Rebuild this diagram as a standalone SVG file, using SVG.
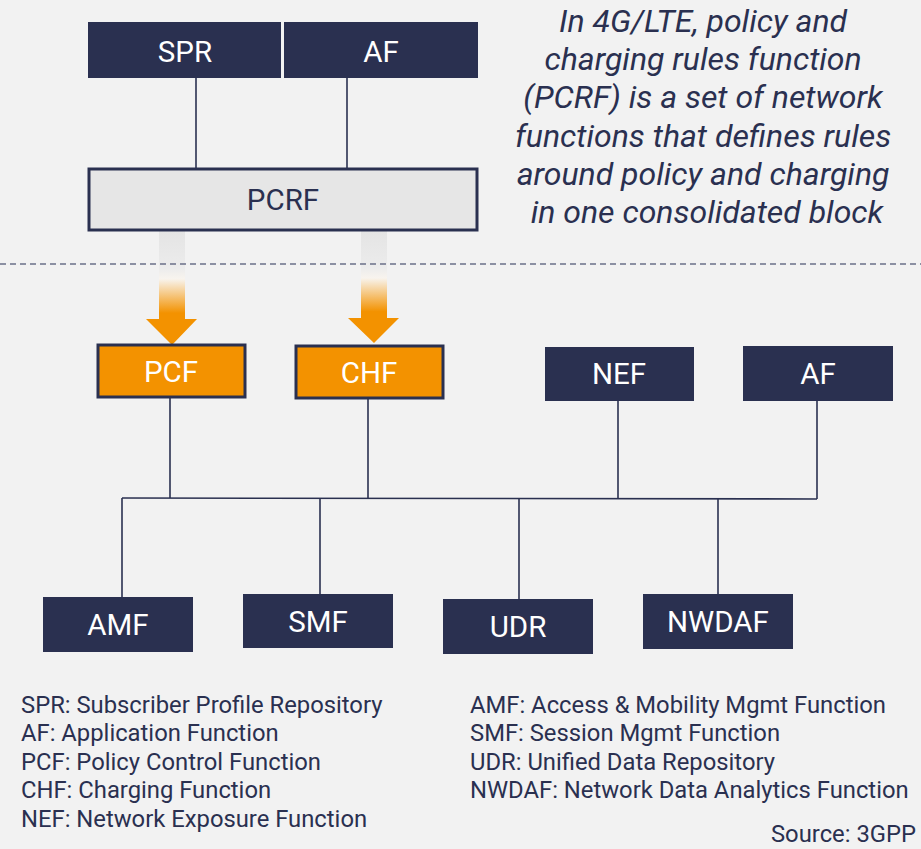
<svg xmlns="http://www.w3.org/2000/svg" width="921" height="849" viewBox="0 0 921 849">
  <defs>
    <linearGradient id="flow" x1="0" y1="0" x2="0" y2="1">
      <stop offset="0" stop-color="#E4E4E4"/>
      <stop offset="0.33" stop-color="#ECECEC"/>
      <stop offset="0.42" stop-color="#F8F4EE"/>
      <stop offset="0.72" stop-color="#F39200"/>
      <stop offset="1" stop-color="#F39200"/>
    </linearGradient>
  </defs>
  <style>
    .bg { fill: #F2F2F2; }
    .dark rect { fill: #2A3050; }
    .hot rect { fill: #F39200; stroke: #2A3050; stroke-width: 3; }
    .legacy rect { fill: #E6E6E6; stroke: #2A3050; stroke-width: 3; }
    .label { font-family: Roboto, "Liberation Sans", sans-serif; font-size: 29.5px; text-anchor: middle; fill: #FFFFFF; }
    .legacy .label { fill: #2A3050; }
    .wire { stroke: #2A3050; stroke-width: 1.6; fill: none; }
    .note { font-family: Roboto, "Liberation Sans", sans-serif; font-style: italic; font-size: 32px; fill: #2A3050; text-anchor: middle; }
    .legend { font-family: Roboto, "Liberation Sans", sans-serif; font-size: 23.8px; fill: #2A3050; }
  </style>

  <rect class="bg" x="0" y="0" width="921" height="849"/>

  <!-- connectors -->
  <g id="connectors">
    <line class="wire" x1="196" y1="78" x2="196" y2="168"/>
    <line class="wire" x1="347" y1="78" x2="347" y2="168"/>
    <line class="wire" x1="170" y1="397" x2="170" y2="498"/>
    <line class="wire" x1="368" y1="398" x2="368" y2="498"/>
    <line class="wire" x1="618" y1="401" x2="618" y2="498"/>
    <line class="wire" x1="817" y1="401" x2="817" y2="499"/>
    <line class="wire" x1="122" y1="498" x2="817" y2="499"/>
    <line class="wire" x1="122" y1="498" x2="122" y2="597"/>
    <line class="wire" x1="320" y1="498" x2="320" y2="594"/>
    <line class="wire" x1="519" y1="499" x2="519" y2="599"/>
    <line class="wire" x1="718" y1="499" x2="718" y2="594"/>
    <!-- migration arrows from PCRF down to PCF and CHF -->
    <path d="M159 231 H185 V319 H197 L172 345 L146 319 H159 Z" fill="url(#flow)"/>
    <path d="M361 231 H387 V318 H399 L374 343 L348 318 H361 Z" fill="url(#flow)"/>
    <!-- 4G / 5G divider -->
    <line x1="0" y1="264" x2="921" y2="264" stroke="#6B7089" stroke-width="1.6" stroke-dasharray="6 4"/>
  </g>

  <!-- 4G nodes -->
  <g id="spr" class="dark">
    <rect x="88" y="22" width="193" height="56"/>
    <text class="label" x="185" y="62">SPR</text>
  </g>
  <g id="af-4g" class="dark">
    <rect x="284" y="22" width="194" height="56"/>
    <text class="label" x="381" y="62">AF</text>
  </g>
  <g id="pcrf" class="legacy">
    <rect x="89" y="169" width="388" height="61"/>
    <text class="label" x="283" y="210">PCRF</text>
  </g>

  <!-- 5G nodes -->
  <g id="pcf" class="hot">
    <rect x="98" y="345" width="147" height="52"/>
    <text class="label" x="171" y="382">PCF</text>
  </g>
  <g id="chf" class="hot">
    <rect x="296" y="346" width="147" height="52"/>
    <text class="label" x="369" y="383">CHF</text>
  </g>
  <g id="nef" class="dark">
    <rect x="545" y="347" width="149" height="54"/>
    <text class="label" x="619" y="384">NEF</text>
  </g>
  <g id="af-5g" class="dark">
    <rect x="743" y="346" width="150" height="55"/>
    <text class="label" x="818" y="384">AF</text>
  </g>
  <g id="amf" class="dark">
    <rect x="43" y="597" width="150" height="55"/>
    <text class="label" x="118" y="635">AMF</text>
  </g>
  <g id="smf" class="dark">
    <rect x="243" y="594" width="150" height="54"/>
    <text class="label" x="318" y="632">SMF</text>
  </g>
  <g id="udr" class="dark">
    <rect x="443" y="599" width="150" height="55"/>
    <text class="label" x="518" y="637">UDR</text>
  </g>
  <g id="nwdaf" class="dark">
    <rect x="643" y="594" width="150" height="55"/>
    <text class="label" x="718" y="632">NWDAF</text>
  </g>

  <!-- explanatory note -->
  <text class="note">
    <tspan x="707" y="32">In 4G/LTE, policy and</tspan>
    <tspan x="707" y="70">charging rules function</tspan>
    <tspan x="707" y="108">(PCRF) is a set of network</tspan>
    <tspan x="707" y="147">functions that defines rules</tspan>
    <tspan x="707" y="185">around policy and charging</tspan>
    <tspan x="707" y="223">in one consolidated block</tspan>
  </text>

  <!-- abbreviations -->
  <text class="legend">
    <tspan x="21" y="713">SPR: Subscriber Profile Repository</tspan>
    <tspan x="21" y="741">AF: Application Function</tspan>
    <tspan x="21" y="770">PCF: Policy Control Function</tspan>
    <tspan x="21" y="798">CHF: Charging Function</tspan>
    <tspan x="21" y="827">NEF: Network Exposure Function</tspan>
  </text>
  <text class="legend">
    <tspan x="470" y="713">AMF: Access &amp; Mobility Mgmt Function</tspan>
    <tspan x="470" y="741">SMF: Session Mgmt Function</tspan>
    <tspan x="470" y="770">UDR: Unified Data Repository</tspan>
    <tspan x="470" y="798">NWDAF: Network Data Analytics Function</tspan>
  </text>
  <text class="legend" x="916" y="842" text-anchor="end">Source: 3GPP</text>
</svg>
